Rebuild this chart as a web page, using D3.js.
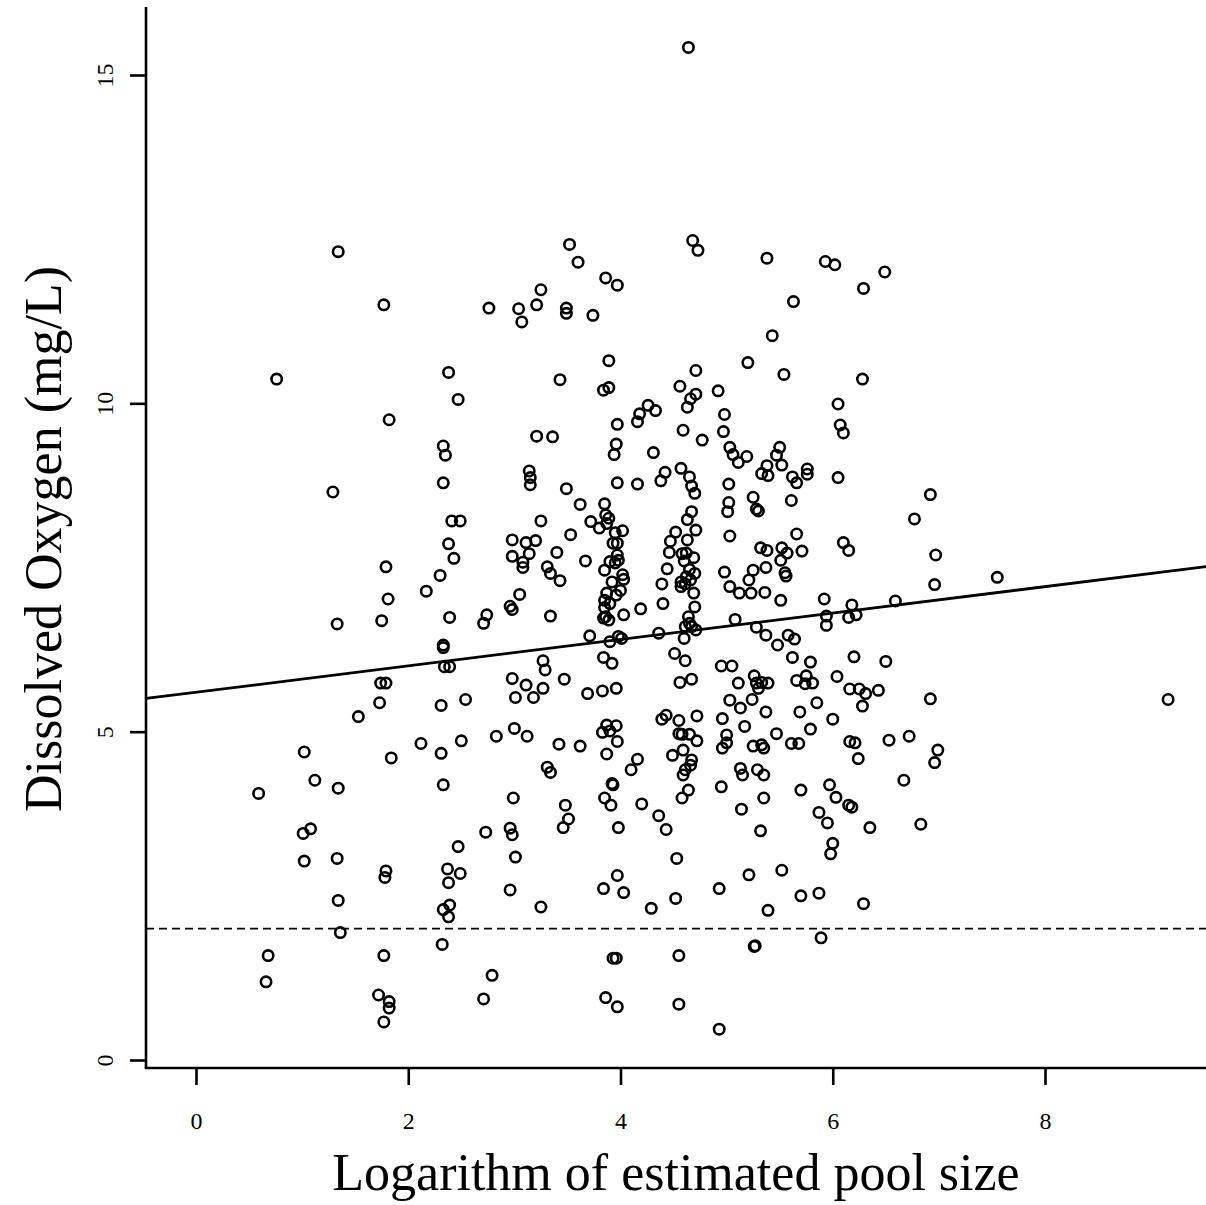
<!DOCTYPE html>
<html>
<head>
<meta charset="utf-8">
<script src="https://cdn.jsdelivr.net/npm/d3@7"></script>
<style>
body { margin: 0; background: #fff; }
text { font-family: "Liberation Serif", "DejaVu Serif", serif; fill: #000; }
</style>
</head>
<body>
<svg id="chart" width="1206" height="1205"></svg>
<script>
// log(estimated pool size), dissolved oxygen (mg/L)
var samples = [
 [0.76,10.37],[2.38,10.47],[2.47,10.06],[1.82,9.75],[2.33,9.35],[2.35,9.21],[2.33,8.79],[1.29,8.65],[2.41,8.21],[2.49,8.21],[2.38,7.86],[2.43,7.64],[1.79,7.51],[2.30,7.38],[2.17,7.14],[1.81,7.02],[2.39,6.74],[2.74,6.78],[2.71,6.65],[1.75,6.69],[1.33,6.64],[2.33,6.32],[2.33,6.28],[2.34,5.99],[2.39,5.99],[1.74,5.74],[1.79,5.74],[1.73,5.44],[2.31,5.40],[2.54,5.49],[1.53,5.23],
 [1.02,4.69],[2.12,4.82],[2.31,4.67],[2.50,4.86],[2.83,4.93],[1.84,4.60],[1.12,4.26],[1.34,4.14],[0.59,4.06],[2.33,4.19],[1.01,3.45],[1.08,3.52],[1.02,3.03],[1.33,3.07],[1.79,2.88],[1.78,2.78],[2.47,3.25],[2.73,3.47],[2.37,2.91],[2.49,2.84],[2.38,2.70],[1.34,2.43],[2.39,2.36],[2.33,2.29],[2.38,2.18],[1.36,1.94],[2.32,1.76],[0.68,1.59],[1.77,1.59],[0.66,1.19],[2.79,1.29],[2.71,0.93],[1.72,0.99],[1.82,0.89],[1.82,0.79],[1.77,0.58],
 [4.64,15.42],[1.34,12.31],[1.77,11.50],[2.76,11.45],[3.04,11.44],[3.07,11.24],[3.21,11.50],[3.25,11.73],[3.52,12.42],[3.60,12.15],[3.49,11.45],[3.49,11.37],[3.74,11.34],[3.86,11.91],[3.97,11.80],[4.68,12.48],[4.73,12.33],
 [5.38,12.21],[5.93,12.16],[6.02,12.11],[6.49,12.00],[6.29,11.75],[5.63,11.55],[5.43,11.03],
 [6.28,10.37],[6.92,8.61],[6.77,8.24],[6.97,7.69],[6.96,7.24],[7.55,7.35],[6.59,6.99],[6.50,6.07],[6.25,5.65],[6.31,5.58],[6.43,5.63],[6.28,5.39],[6.92,5.50],[9.16,5.49],
 [6.53,4.87],[6.72,4.93],[6.99,4.72],[6.96,4.53],[6.67,4.26],[6.35,3.54],[6.83,3.59],[6.29,2.38],
 [3.89,10.65],[5.20,10.62],[4.71,10.50],[5.54,10.44],[3.43,10.36],[3.84,10.20],[3.89,10.24],[4.56,10.26],[4.92,10.19],[4.71,10.14],[4.66,10.07],[4.63,9.94],[4.26,9.97],[4.33,9.89],[4.18,9.84],[4.16,9.72],[6.05,9.99],[4.98,9.83],[3.97,9.68],[6.07,9.67],[6.10,9.55],[3.21,9.50],[3.36,9.49],[4.59,9.59],[4.97,9.57],[4.77,9.44],[3.96,9.38],[3.94,9.22],[4.31,9.25],[5.03,9.33],[5.06,9.22],[5.11,9.10],[5.19,9.19],[5.50,9.33],[5.47,9.21],[5.52,9.06],[5.38,9.05],[5.33,8.93],[5.39,8.90],[5.62,8.88],[5.66,8.79],[5.76,9.00],[5.76,8.92],[6.05,8.87],[3.14,8.97],[3.15,8.87],[3.15,8.76],[3.97,8.79],[4.16,8.77],[4.38,8.82],[4.42,8.95],[4.57,9.01],[4.65,8.88],[4.67,8.74],[4.70,8.63],[3.49,8.70],[5.02,8.77],[5.02,8.49],[5.01,8.35],[5.25,8.57],[5.28,8.39],[5.30,8.36],[5.61,8.52],[3.62,8.46],[3.85,8.47],[3.86,8.30],[3.89,8.25],[3.87,8.17],[3.80,8.10],[3.72,8.20],[3.25,8.21],[4.67,8.35],[4.63,8.23],[4.71,8.07],[4.52,8.04],[4.47,7.90],[4.63,7.92],[5.03,7.98],[5.66,8.01],[3.95,8.03],[4.02,8.06],[3.53,8.00],[2.98,7.92],[3.11,7.88],[3.20,7.91],[2.98,7.67],[3.14,7.71],[3.08,7.58],[3.08,7.50],[3.40,7.73],[3.31,7.51],[3.34,7.41],[3.43,7.30],[3.67,7.60],[3.93,7.87],[3.97,7.87],[3.97,7.69],[3.90,7.59],[3.95,7.57],[3.98,7.61],[3.85,7.46],[4.02,7.39],[4.03,7.32],[3.92,7.28],[4.00,7.15],[3.96,7.08],[3.87,7.11],[3.85,7.00],[3.90,6.95],[3.85,6.89],[3.86,6.75],[3.84,6.73],[3.89,6.70],[4.03,6.78],[4.19,6.87],[4.46,7.73],[4.58,7.71],[4.62,7.72],[4.69,7.65],[4.60,7.60],[4.44,7.48],[4.65,7.47],[4.70,7.41],[4.62,7.36],[4.57,7.28],[4.61,7.25],[4.57,7.21],[4.66,7.31],[4.39,7.25],[4.69,7.11],[4.40,6.95],[4.70,6.90],[4.64,6.75],[4.65,6.65],[4.67,6.60],[4.71,6.55],[4.61,6.60],[4.98,7.43],[5.03,7.21],[5.12,7.11],[5.23,7.11],[5.21,7.31],[5.25,7.46],[5.37,7.50],[5.32,7.80],[5.38,7.76],[5.52,7.80],[5.57,7.72],[5.51,7.61],[5.55,7.42],[5.56,7.37],[5.71,7.75],[5.36,7.12],[5.51,7.00],[6.10,7.88],[6.15,7.76],[5.92,7.02],[5.94,6.76],[5.94,6.62],[6.18,6.93],[6.15,6.74],[6.22,6.78],[3.05,7.09],[2.96,6.91],[2.98,6.86],[3.34,6.76],[5.08,6.71],[3.71,6.46],[3.90,6.37],[3.98,6.45],[4.01,6.42],[4.36,6.50],[4.60,6.42],[5.28,6.59],[5.37,6.47],[5.58,6.47],[5.64,6.41],[5.48,6.32],[5.62,6.13],[5.79,6.06],[6.20,6.14],[4.51,6.19],[4.61,6.08],[3.84,6.13],[3.92,6.04],[3.27,6.08],[3.29,5.94],[2.98,5.81],[3.11,5.71],[3.27,5.66],[3.01,5.52],[3.18,5.52],[3.47,5.80],[3.69,5.58],[3.83,5.62],[3.96,5.66],[4.56,5.75],[4.67,5.80],[4.95,6.00],[5.05,6.00],[5.11,5.74],[5.26,5.85],[5.28,5.74],[5.33,5.75],[5.39,5.74],[5.30,5.66],[5.66,5.78],[5.75,5.85],[5.74,5.73],[5.81,5.74],[6.04,5.84],[6.16,5.65],[5.24,5.49],
 [5.03,5.48],[5.13,5.36],[5.37,5.30],[5.69,5.30],[5.85,5.44],[6.00,5.19],[4.43,5.25],[4.39,5.19],[4.55,5.17],[4.72,5.24],[4.96,5.20],[3.00,5.05],[3.12,4.93],[3.42,4.81],[3.62,4.78],[3.87,5.10],[3.83,4.99],[3.96,5.09],[3.90,5.01],[3.97,4.85],[3.87,4.66],[4.16,4.58],[4.10,4.42],[3.31,4.46],[3.34,4.38],[3.92,4.21],[3.93,4.19],[3.85,3.99],[3.91,3.88],[4.20,3.90],[2.99,3.99],[3.48,3.88],[3.51,3.67],[3.46,3.54],[3.98,3.54],[4.36,3.72],[4.43,3.51],[2.96,3.53],[2.98,3.43],[3.01,3.09],[4.53,3.07],[3.97,2.81],[3.84,2.61],[4.03,2.55],[2.96,2.59],[3.25,2.33],[4.29,2.31],[4.52,2.46],[4.93,2.61],[5.21,2.82],[5.52,2.89],[5.39,2.28],[5.70,2.50],[5.87,2.54],[5.89,1.86],[5.26,1.73],[5.27,1.74],[3.93,1.55],[3.96,1.55],[4.55,1.59],[3.86,0.95],[3.97,0.81],[4.55,0.85],[4.93,0.47],
 [4.55,4.97],[4.58,4.96],[4.65,4.96],[4.72,4.86],[4.59,4.72],[4.49,4.64],[4.67,4.57],[4.66,4.49],[4.61,4.42],[4.59,4.34],[4.64,4.11],[4.58,3.99],[5.00,4.95],[5.00,4.83],[4.96,4.75],[5.17,5.08],[5.25,4.78],[5.33,4.80],[5.35,4.75],[5.47,4.97],[5.61,4.82],[5.68,4.82],[5.79,5.04],[6.16,4.85],[6.21,4.83],[6.24,4.59],[5.13,4.44],[5.15,4.34],[5.29,4.42],[5.35,4.34],[4.95,4.16],[5.14,3.82],[5.35,3.99],[5.32,3.49],[5.70,4.11],[5.97,4.19],[6.03,4.00],[6.15,3.88],[6.18,3.85],[5.87,3.77],[5.95,3.61],[6.00,3.30],[5.98,3.14]
];

var xTicks = [0, 2, 4, 6, 8];
var yTicks = [0, 5, 10, 15];
var fitIntercept = 5.60;
var fitSlope = 0.201;
var lowOxygen = 2;   // dashed reference level
var xTitle = "Logarithm of estimated pool size";
var yTitle = "Dissolved Oxygen (mg/L)";

var svg = d3.select("#chart");
var frameLeft = 146, frameRight = 1206, frameTop = 7, frameBottom = 1068;

var x = d3.scaleLinear().domain([0, 8]).range([196, 1045]);
var y = d3.scaleLinear().domain([0, 15]).range([1060, 75]);

var xLo = x.invert(frameLeft), xHi = x.invert(frameRight);

// L shaped frame
svg.append("line")
	.attr("x1", frameLeft).attr("x2", frameLeft)
	.attr("y1", frameTop).attr("y2", frameBottom)
	.attr("stroke", "#000").attr("stroke-width", 2.6);
svg.append("line")
	.attr("x1", frameLeft - 1.3).attr("x2", frameRight)
	.attr("y1", frameBottom).attr("y2", frameBottom)
	.attr("stroke", "#000").attr("stroke-width", 2.6);

var xAxis = svg.append("g")
	.attr("transform", "translate(0," + frameBottom + ")")
	.call(d3.axisBottom(x).tickValues(xTicks).tickSize(17).tickSizeOuter(0));
xAxis.select(".domain").remove();
xAxis.selectAll("line").attr("stroke-width", 2.6);
xAxis.selectAll("text")
	.attr("y", 61).attr("dy", null)
	.style("font-size", "24px")
	.style("font-family", "'Liberation Serif', 'DejaVu Serif', serif");

var yAxis = svg.append("g")
	.attr("transform", "translate(" + frameLeft + ",0)")
	.call(d3.axisLeft(y).tickValues(yTicks).tickSize(16).tickSizeOuter(0));
yAxis.select(".domain").remove();
yAxis.selectAll("line").attr("stroke-width", 2.6);
yAxis.selectAll("text")
	.attr("x", null).attr("dy", null)
	.attr("text-anchor", "middle")
	.attr("transform", "translate(-33,0) rotate(-90)")
	.style("font-size", "24px")
	.style("font-family", "'Liberation Serif', 'DejaVu Serif', serif");

svg.append("clipPath").attr("id", "plotclip")
	.append("rect")
	.attr("x", frameLeft).attr("y", frameTop)
	.attr("width", frameRight - frameLeft).attr("height", frameBottom - frameTop);

var plot = svg.append("g").attr("clip-path", "url(#plotclip)");

plot.selectAll("circle.obs")
	.data(samples).enter()
	.append("circle")
	.attr("class", "obs")
	.attr("cx", function(d){ return x(d[0]); })
	.attr("cy", function(d){ return y(d[1]); })
	.attr("r", 5.2)
	.attr("fill", "none")
	.attr("stroke", "#000")
	.attr("stroke-width", 2.6);

// fitted line
plot.append("line")
	.attr("x1", x(xLo)).attr("y1", y(fitIntercept + fitSlope * xLo))
	.attr("x2", x(xHi)).attr("y2", y(fitIntercept + fitSlope * xHi))
	.attr("stroke", "#000").attr("stroke-width", 2.8);

plot.append("line")
	.attr("x1", x(xLo)).attr("x2", x(xHi))
	.attr("y1", y(lowOxygen)).attr("y2", y(lowOxygen))
	.attr("stroke", "#000").attr("stroke-width", 1.6)
	.attr("stroke-dasharray", "8,5");

svg.append("text")
	.attr("x", 676).attr("y", 1190)
	.attr("text-anchor", "middle")
	.style("font-size", "52px")
	.text(xTitle);

svg.append("text")
	.attr("transform", "translate(61,539) rotate(-90)")
	.attr("text-anchor", "middle")
	.style("font-size", "52px")
	.text(yTitle);
</script>
</body>
</html>
